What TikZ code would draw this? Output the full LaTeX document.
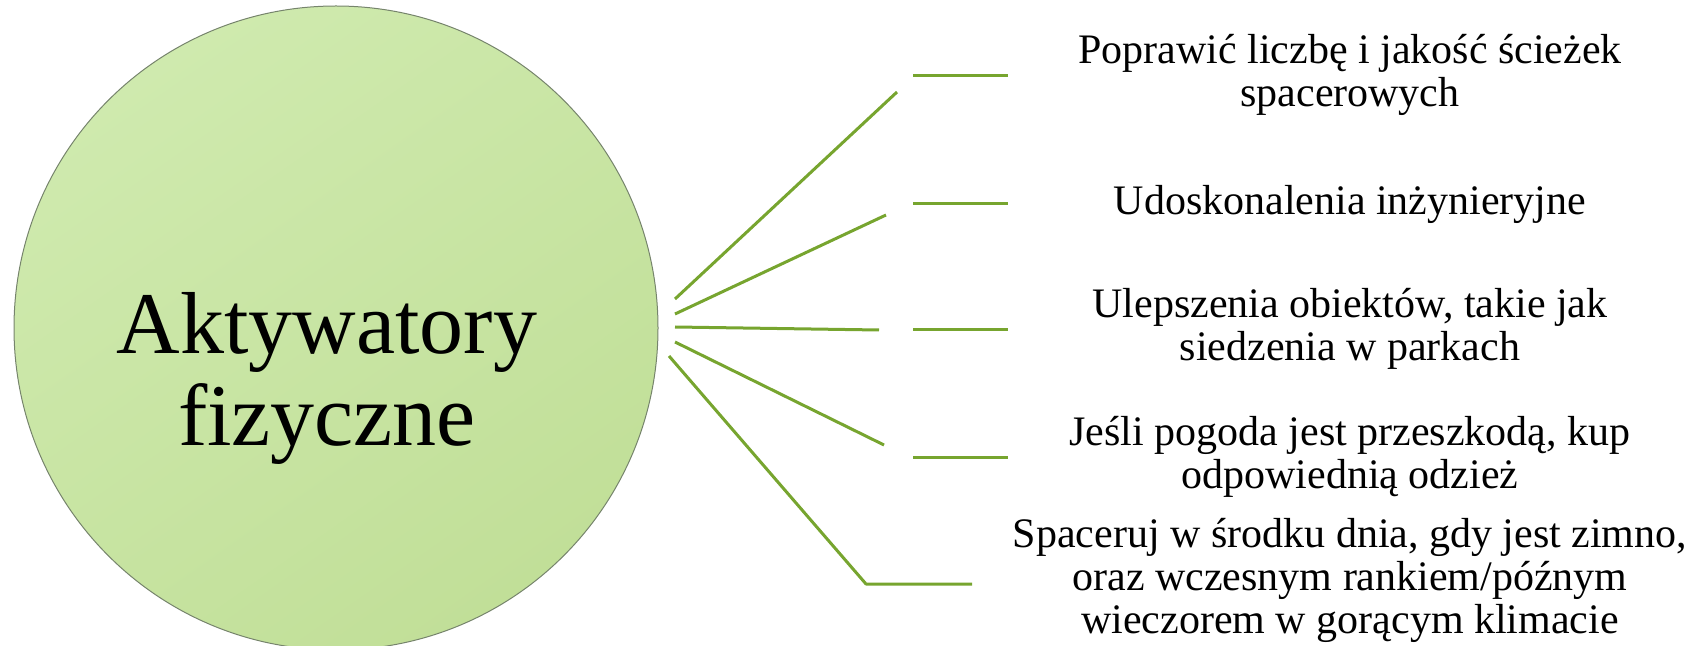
\documentclass[tikz,border=0pt]{standalone}
\usepackage{fontspec}
\newfontfamily\timesfont{Liberation Serif}
\usetikzlibrary{positioning}

\definecolor{hubfill}{RGB}{207,234,174}
\definecolor{hubfilldark}{RGB}{193,223,152}
\definecolor{hubedge}{RGB}{118,132,108}
\definecolor{branchgreen}{RGB}{119,165,47}

\newcommand{\lines}[1]{\begin{tabular}{@{}c@{}}#1\end{tabular}}

\begin{document}
\begin{tikzpicture}[x=0.5pt, y=-0.5pt, line cap=round, line join=round,
  branch/.style={line width=1.5pt, draw=branchgreen, line cap=butt},
  item/.style={font=\timesfont\fontsize{21}{21.5}\selectfont}]
\useasboundingbox (0,0) rectangle (1698,646);
% hub
\node (hub) [circle, minimum size=322pt, inner sep=0pt, draw=hubedge, line width=0.5pt,
  top color=hubfill, bottom color=hubfilldark, shading angle=35] at (336,328) {};
\node (lbl) [font=\timesfont\fontsize{44}{46}\selectfont] at (327,381)
  {\lines{Aktywatory\\fizyczne}};
% spokes
\coordinate (s1) at (675,299);
\coordinate (s2) at (675,314);
\coordinate (s3) at (675,327);
\coordinate (s4) at (675,342);
\coordinate (s5) at (669,356);
\coordinate (e1) at (897,92);
\coordinate (e2) at (886,215);
\coordinate (e3) at (879,330);
\coordinate (e4) at (884,445);
\coordinate (e5) at (866,584);
\coordinate (f5) at (972,584);
\foreach \i in {1,...,4} {
  \draw[branch] (s\i) -- (e\i);
}
\draw[branch] (s5) -- (e5) -- (f5);
% short bars
\foreach \i/\y in {1/76,2/204,3/330,4/458} {
  \coordinate (a\i) at (913,\y);
  \coordinate (b\i) at (1008,\y);
  \draw[branch] (a\i) -- (b\i);
}
% texts
\node (t1) [item] at (1350,76) {\lines{Poprawić liczbę i jakość ścieżek\\spacerowych}};
\node (t2) [item] at (1350,204) {Udoskonalenia inżynieryjne};
\node (t3) [item] at (1350,330) {\lines{Ulepszenia obiektów, takie jak\\siedzenia w parkach}};
\node (t4) [item] at (1350,458) {\lines{Jeśli pogoda jest przeszkodą, kup\\odpowiednią odzież}};
\node (t5) [item] at (1350,582) {\lines{Spaceruj w środku dnia, gdy jest zimno,\\oraz wczesnym rankiem/późnym\\wieczorem w gorącym klimacie}};
\end{tikzpicture}
\end{document}
